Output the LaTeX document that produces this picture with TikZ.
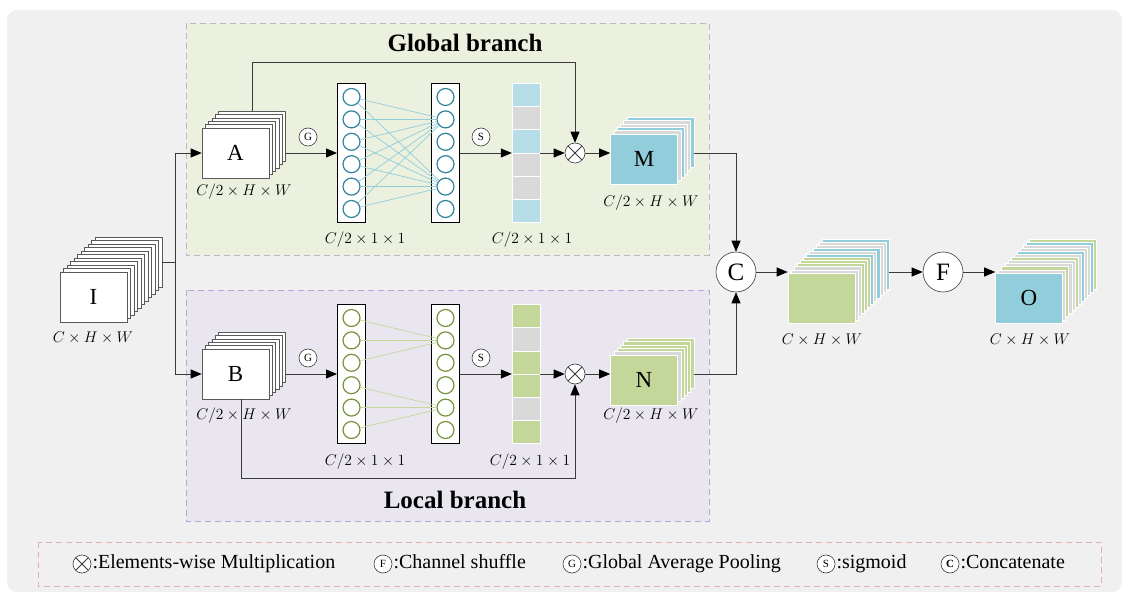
\documentclass[tikz,border=0pt]{standalone}
\usepackage{fix-cm}
\usepackage{fontspec}
\setmainfont{Liberation Serif}
\usetikzlibrary{arrows.meta,positioning}

\definecolor{bgcol}{HTML}{F0F0F0}
\definecolor{linecol}{HTML}{3A3A3A}
\definecolor{globalfill}{HTML}{EBF1DE}
\definecolor{localfill}{HTML}{E9E6EF}
\definecolor{globalrim}{HTML}{BDB5C8}
\definecolor{localrim}{HTML}{B4A7D6}
\definecolor{legendrim}{HTML}{E6B0B0}
\definecolor{teal}{HTML}{31849B}
\definecolor{olive}{HTML}{77933C}
\definecolor{blueedge}{HTML}{92CDDC}
\definecolor{greenedge}{HTML}{C4D79B}
\definecolor{bluesheet}{HTML}{92CDDC}
\definecolor{bluecell}{HTML}{B7DEE8}
\definecolor{greensheet}{HTML}{C4D79B}
\definecolor{graysheet}{HTML}{D9D9D9}

\begin{document}
\begin{tikzpicture}[
    x = 1pt, y = -1pt,
    line/.style = {draw = linecol, line width = 0.8pt},
    arr/.style = {line, -{Triangle[length = 11pt, width = 9pt, color = black]}},
    sheet/.style = {draw = gray!70!black, fill = white, line width = 0.6pt,
      minimum width = 67pt, minimum height = 50pt, inner sep = 0pt,
      font = \fontsize{23}{23}\selectfont},
    flat/.style = {sheet, draw = white, fill = #1},
    col/.style = {draw = black, fill = white, line width = 1pt,
      minimum width = 28pt, minimum height = 139pt, inner sep = 0pt},
    neuron/.style = {circle, draw = #1, line width = 1.2pt, minimum size = 17pt,
      inner sep = 0pt},
    cell/.style = {fill = #1, draw = white, line width = 0.6pt,
      minimum width = 28pt, minimum height = 23.2pt, inner sep = 0pt},
    op/.style = {circle, draw = linecol, fill = white, line width = 0.6pt,
      minimum size = 18pt, inner sep = 0pt, font = \fontsize{11}{11}\selectfont},
    bigop/.style = {op, minimum size = 40pt, font = \fontsize{25}{25}\selectfont},
    mul/.style = {op, minimum size = #1, path picture = {
        \draw[line width = 0.8pt] (path picture bounding box.north west)
          -- (path picture bounding box.south east)
          (path picture bounding box.north east)
          -- (path picture bounding box.south west);}},
    dim/.style = {font = \fontsize{15.5}{16}\selectfont},
    title/.style = {font = \fontsize{25}{25}\selectfont\bfseries},
    legend/.style = {font = \fontsize{20}{20}\selectfont, inner sep = 1pt,
      text height = 13pt, text depth = 4pt},
    rim/.style = {draw = #1, dashed, dash pattern = on 6pt off 4pt, line width = 0.8pt},
  ]
  \useasboundingbox (0,0) rectangle (1129,601);
  \fill[bgcol, rounded corners = 10pt] (7,10) rectangle (1122,592);

  \draw[rim = globalrim, fill = globalfill] (186,23) rectangle (709,255);
  \draw[rim = localrim, fill = localfill] (186,290) rectangle (709,521);
  \draw[rim = legendrim] (38,542) rectangle (1101,586);

  \node[title] (global title) at (465,43) {Global branch};
  \node[title] (local title) at (455,500) {Local branch};

  % input
  \foreach \n in {1,...,10}
    \node[sheet] (I sheet \n) at ({93.5+3.5*(11-\n)},{297-3.5*(11-\n)}) {};
  \node[sheet] (I) at (93.5,297) {I};
  \node[dim] (I dim) at (93,338) {$C\times H\times W$};
  \coordinate (split) at (175,262);

  % global branch
  \foreach \n in {1,...,5}
    \node[sheet] (A sheet \n) at ({235.5+3.3*(6-\n)},{153-3.3*(6-\n)}) {};
  \node[sheet] (A) at (235.5,153) {A};
  \node[dim] (A dim) at (244,192) {$C/2\times H\times W$};

  \node[col] (g col 1) at (351.5,153) {};
  \node[col] (g col 2) at (445.5,153) {};
  \foreach \i in {1,...,6} {
    \node[neuron = teal] (g left \i) at (351.5,{153+(\i-3.5)*22.4}) {};
    \node[neuron = teal] (g right \i) at (445.5,{153+(\i-3.5)*22.4}) {};
  }
  \foreach \i in {1,...,6}
    \foreach \j in {2,5}
      \draw[blueedge, line width = 0.7pt] (g left \i) -- (g right \j);
  \node[dim] (g col dim) at (365,240) {$C/2\times 1\times 1$};

  \node[minimum width = 28pt, minimum height = 139pt, inner sep = 0pt] (g bar) at (526,153) {};
  \foreach \c [count = \i] in {bluecell,graysheet,bluecell,graysheet,graysheet,bluecell}
    \node[cell = \c] (g cell \i) at (526,{153+(\i-3.5)*23.2}) {};
  \node[dim] (g bar dim) at (532,240) {$C/2\times 1\times 1$};

  \node[op] (g gap) at (308,137) {G};
  \node[op] (g sig) at (481,137) {S};
  \node[mul = 20pt] (g mul) at (575,153) {};

  \foreach \c [count = \n] in {bluesheet,graysheet,graysheet,bluesheet,graysheet}
    \node[flat = \c] (M sheet \n) at ({644+3.3*(6-\n)},{159-3.3*(6-\n)}) {};
  \node[flat = bluesheet] (M) at (644,159) {M};
  \node[dim] (M dim) at (651,203) {$C/2\times H\times W$};

  % local branch
  \foreach \n in {1,...,5}
    \node[sheet] (B sheet \n) at ({235.5+3.3*(6-\n)},{374-3.3*(6-\n)}) {};
  \node[sheet] (B) at (235.5,374) {B};
  \node[dim] (B dim) at (244,416) {$C/2\times H\times W$};

  \node[col] (l col 1) at (351.5,374) {};
  \node[col] (l col 2) at (445.5,374) {};
  \foreach \i in {1,...,6} {
    \node[neuron = olive] (l left \i) at (351.5,{374+(\i-3.5)*22.4}) {};
    \node[neuron = olive] (l right \i) at (445.5,{374+(\i-3.5)*22.4}) {};
  }
  \foreach \i/\j in {1/2,2/2,3/2,4/5,5/5,6/5}
    \draw[greenedge, line width = 0.7pt] (l left \i) -- (l right \j);
  \node[dim] (l col dim) at (365,462) {$C/2\times 1\times 1$};

  \node[minimum width = 28pt, minimum height = 139pt, inner sep = 0pt] (l bar) at (526,374) {};
  \foreach \c [count = \i] in {greensheet,graysheet,greensheet,greensheet,graysheet,greensheet}
    \node[cell = \c] (l cell \i) at (526,{374+(\i-3.5)*23.2}) {};
  \node[dim] (l bar dim) at (530,462) {$C/2\times 1\times 1$};

  \node[op] (l gap) at (308,358) {G};
  \node[op] (l sig) at (481,358) {S};
  \node[mul = 20pt] (l mul) at (575,374) {};

  \foreach \c [count = \n] in {greensheet,greensheet,greensheet,greensheet,graysheet}
    \node[flat = \c] (N sheet \n) at ({644+3.3*(6-\n)},{380-3.3*(6-\n)}) {};
  \node[flat = greensheet] (N) at (644,380) {N};
  \node[dim] (N dim) at (651,416) {$C/2\times H\times W$};

  % fusion
  \node[bigop] (C) at (736,272) {C};
  \foreach \c [count = \n] in {bluesheet,graysheet,graysheet,bluesheet,graysheet,bluesheet,
      greensheet,greensheet,greensheet,graysheet,graysheet}
    \node[flat = \c] (cat sheet \n) at ({821.5+3.1*(12-\n)},{298-3.1*(12-\n)}) {};
  \node[flat = greensheet] (cat) at (821.5,298) {};
  \node[dim] (cat dim) at (822,340) {$C\times H\times W$};

  \node[bigop] (F) at (943,272) {F};
  \foreach \c [count = \n] in {greensheet,bluesheet,graysheet,graysheet,bluesheet,graysheet,
      greensheet,graysheet,graysheet,greensheet,graysheet}
    \node[flat = \c] (O sheet \n) at ({1029+3.1*(12-\n)},{298-3.1*(12-\n)}) {};
  \node[flat = bluesheet] (O) at (1029,298) {O};
  \node[dim] (O dim) at (1030,340) {$C\times H\times W$};

  % connectors
  \draw[line] (I sheet 1.east) -- (split);
  \draw[line] (split |- A.west) -- (split |- B.west);
  \draw[arr] (split |- A.west) -- (A.west);
  \draw[arr] (split |- B.west) -- (B.west);

  \draw[arr] (A.east -| A sheet 1.east) -- (g col 1.west);
  \draw[arr] (g col 2.east) -- (g bar.west);
  \draw[arr] (g bar.east) -- (g mul.west);
  \draw[arr] (A sheet 1.north) -- ++(0,-48.5) -| (g mul.north);
  \draw[arr] (g mul.east) -- (g mul -| M.west);
  \draw[arr] (g mul -| M sheet 1.east) -| (C.north);

  \draw[arr] (B.east -| B sheet 1.east) -- (l col 1.west);
  \draw[arr] (l col 2.east) -- (l bar.west);
  \draw[arr] (l bar.east) -- (l mul.west);
  \draw[arr] ([xshift = 5.5pt]B.south) -- ++(0,79) -| (l mul.south);
  \draw[arr] (l mul.east) -- (l mul -| N.west);
  \draw[arr] (l mul -| N sheet 1.east) -| (C.south);

  \draw[arr] (C.east) -- (C -| cat.west);
  \draw[arr] (C -| cat sheet 1.east) -- (F.west);
  \draw[arr] (F.east) -- (F -| O.west);

  % legend
  \node[mul = 18pt] (leg mul) at (82,564) {};
  \node[legend, right = 0pt of leg mul] (leg mul text) {:Elements-wise Multiplication};
  \node[op] (leg shuffle) at (383,564) {F};
  \node[legend, right = 0pt of leg shuffle] (leg shuffle text) {:Channel shuffle};
  \node[op] (leg gap) at (572,564) {G};
  \node[legend, right = 0pt of leg gap] (leg gap text) {:Global Average Pooling};
  \node[op] (leg sig) at (826,564) {S};
  \node[legend, right = 0pt of leg sig] (leg sig text) {:sigmoid};
  \node[op] (leg cat) at (950,564) {\textbf{C}};
  \node[legend, right = 0pt of leg cat] (leg cat text) {:Concatenate};
\end{tikzpicture}
\end{document}
